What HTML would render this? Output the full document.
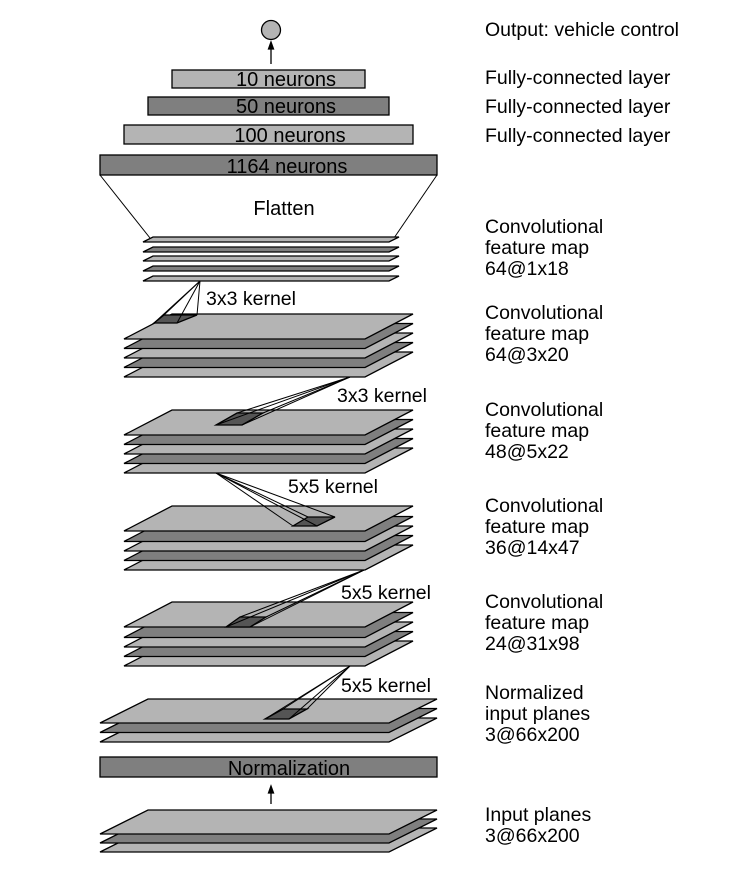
<!DOCTYPE html>
<html><head><meta charset="utf-8"><style>
html,body{margin:0;padding:0;background:#fff}
svg{display:block}
text{font-family:"Liberation Sans",Arial,sans-serif;fill:#000}
</style></head><body>
<svg width="737" height="875" viewBox="0 0 737 875" xmlns="http://www.w3.org/2000/svg">
<g stroke="#000" stroke-width="1.3" stroke-linejoin="miter">
<circle cx="271" cy="30" r="9.5" fill="#b4b4b4"/>
<line x1="271" y1="64" x2="271" y2="47"/>
<polygon points="271,42 268.5,49 273.5,49" fill="#000"/>
<rect x="172" y="70" width="193" height="18" fill="#b4b4b4"/>
<rect x="148" y="97" width="241" height="18" fill="#7f7f7f"/>
<rect x="124" y="125" width="289" height="19" fill="#b4b4b4"/>
<rect x="100" y="155" width="337" height="20" fill="#7f7f7f"/>
<line x1="100" y1="175" x2="150" y2="238" stroke-width="1"/>
<line x1="437" y1="175" x2="394" y2="238" stroke-width="1"/>
<polygon points="143,281 389,281 399,276 153,276" fill="#b4b4b4"/>
<polygon points="143,271 389,271 399,266 153,266" fill="#7f7f7f"/>
<polygon points="143,261 389,261 399,256 153,256" fill="#b4b4b4"/>
<polygon points="143,252 389,252 399,247 153,247" fill="#7f7f7f"/>
<polygon points="143,242 389,242 399,237 153,237" fill="#b4b4b4"/>
<polygon points="124,377 365,377 413,352 172,352" fill="#b4b4b4"/>
<polygon points="124,367.5 365,367.5 413,342.5 172,342.5" fill="#7f7f7f"/>
<polygon points="124,358 365,358 413,333 172,333" fill="#b4b4b4"/>
<polygon points="124,348.5 365,348.5 413,323.5 172,323.5" fill="#7f7f7f"/>
<polygon points="124,339 365,339 413,314 172,314" fill="#b4b4b4"/>
<polygon points="154,323 177,323 197,315 164,315" fill="#555"/>
<g stroke-width="1">
<line x1="200" y1="281" x2="154" y2="323"/><line x1="200" y1="281" x2="177" y2="323"/>
<line x1="200" y1="281" x2="197" y2="315"/><line x1="200" y1="281" x2="164" y2="315"/>
</g>
<polygon points="124,473 365,473 413,448 172,448" fill="#b4b4b4"/>
<polygon points="124,463.5 365,463.5 413,438.5 172,438.5" fill="#7f7f7f"/>
<polygon points="124,454 365,454 413,429 172,429" fill="#b4b4b4"/>
<polygon points="124,444.5 365,444.5 413,419.5 172,419.5" fill="#7f7f7f"/>
<polygon points="124,435 365,435 413,410 172,410" fill="#b4b4b4"/>
<polygon points="216,425 242,425 263,413 237,413" fill="#555"/>
<g stroke-width="1">
<line x1="350" y1="377" x2="216" y2="425"/><line x1="350" y1="377" x2="242" y2="425"/>
<line x1="350" y1="377" x2="263" y2="413"/><line x1="350" y1="377" x2="237" y2="413"/>
</g>
<polygon points="124,570 365,570 413,545 172,545" fill="#b4b4b4"/>
<polygon points="124,560.5 365,560.5 413,535.5 172,535.5" fill="#7f7f7f"/>
<polygon points="124,551 365,551 413,526 172,526" fill="#b4b4b4"/>
<polygon points="124,541.5 365,541.5 413,516.5 172,516.5" fill="#7f7f7f"/>
<polygon points="124,531 365,531 413,506 172,506" fill="#b4b4b4"/>
<polygon points="293,526 317,526 335,517 308,517" fill="#555"/>
<g stroke-width="1">
<line x1="216" y1="473" x2="293" y2="526"/><line x1="216" y1="473" x2="317" y2="526"/>
<line x1="216" y1="473" x2="335" y2="517"/><line x1="216" y1="473" x2="308" y2="517"/>
</g>
<polygon points="124,666 365,666 413,641 172,641" fill="#b4b4b4"/>
<polygon points="124,656.5 365,656.5 413,631.5 172,631.5" fill="#7f7f7f"/>
<polygon points="124,647 365,647 413,622 172,622" fill="#b4b4b4"/>
<polygon points="124,637.5 365,637.5 413,612.5 172,612.5" fill="#7f7f7f"/>
<polygon points="124,627 365,627 413,602 172,602" fill="#b4b4b4"/>
<polygon points="226,627 250,627 266,617 240,617" fill="#555"/>
<g stroke-width="1">
<line x1="364" y1="570" x2="226" y2="627"/><line x1="364" y1="570" x2="250" y2="627"/>
<line x1="364" y1="570" x2="266" y2="617"/><line x1="364" y1="570" x2="240" y2="617"/>
</g>
<polygon points="100,742 389,742 437,718 148,718" fill="#b4b4b4"/>
<polygon points="100,732.5 389,732.5 437,708.5 148,708.5" fill="#7f7f7f"/>
<polygon points="100,723 389,723 437,699 148,699" fill="#b4b4b4"/>
<polygon points="265,719 289,719 307,709 283,709" fill="#555"/>
<g stroke-width="1">
<line x1="350" y1="666" x2="265" y2="719"/><line x1="350" y1="666" x2="289" y2="719"/>
<line x1="350" y1="666" x2="307" y2="709"/><line x1="350" y1="666" x2="283" y2="709"/>
</g>
<rect x="100" y="757" width="337" height="20" fill="#7f7f7f"/>
<line x1="271" y1="804" x2="271" y2="791"/>
<polygon points="271,786 268.5,793 273.5,793" fill="#000"/>
<polygon points="100,852 389,852 437,828 148,828" fill="#b4b4b4"/>
<polygon points="100,843 389,843 437,819 148,819" fill="#7f7f7f"/>
<polygon points="100,834 389,834 437,810 148,810" fill="#b4b4b4"/>
</g>
<g font-size="20" text-anchor="middle">
<text x="286" y="86">10 neurons</text>
<text x="286" y="113">50 neurons</text>
<text x="290" y="142">100 neurons</text>
<text x="287" y="173">1164 neurons</text>
<text x="284" y="215">Flatten</text>
<text x="289" y="775">Normalization</text>
</g>
<g font-size="19.5">
<text x="206" y="305">3x3 kernel</text>
<text x="337" y="402">3x3 kernel</text>
<text x="288" y="493">5x5 kernel</text>
<text x="341" y="599">5x5 kernel</text>
<text x="341" y="692">5x5 kernel</text>
</g>
<g font-size="19.5">
<text x="485" y="36">Output: vehicle control</text>
<text x="485" y="84">Fully-connected layer</text>
<text x="485" y="113">Fully-connected layer</text>
<text x="485" y="142">Fully-connected layer</text>
<text x="485" y="233">Convolutional</text><text x="485" y="254">feature map</text><text x="485" y="275">64@1x18</text>
<text x="485" y="319">Convolutional</text><text x="485" y="340">feature map</text><text x="485" y="361">64@3x20</text>
<text x="485" y="416">Convolutional</text><text x="485" y="437">feature map</text><text x="485" y="458">48@5x22</text>
<text x="485" y="512">Convolutional</text><text x="485" y="533">feature map</text><text x="485" y="554">36@14x47</text>
<text x="485" y="608">Convolutional</text><text x="485" y="629">feature map</text><text x="485" y="650">24@31x98</text>
<text x="485" y="699">Normalized</text><text x="485" y="720">input planes</text><text x="485" y="741">3@66x200</text>
<text x="485" y="821">Input planes</text><text x="485" y="842">3@66x200</text>
</g>
</svg>
</body></html>
